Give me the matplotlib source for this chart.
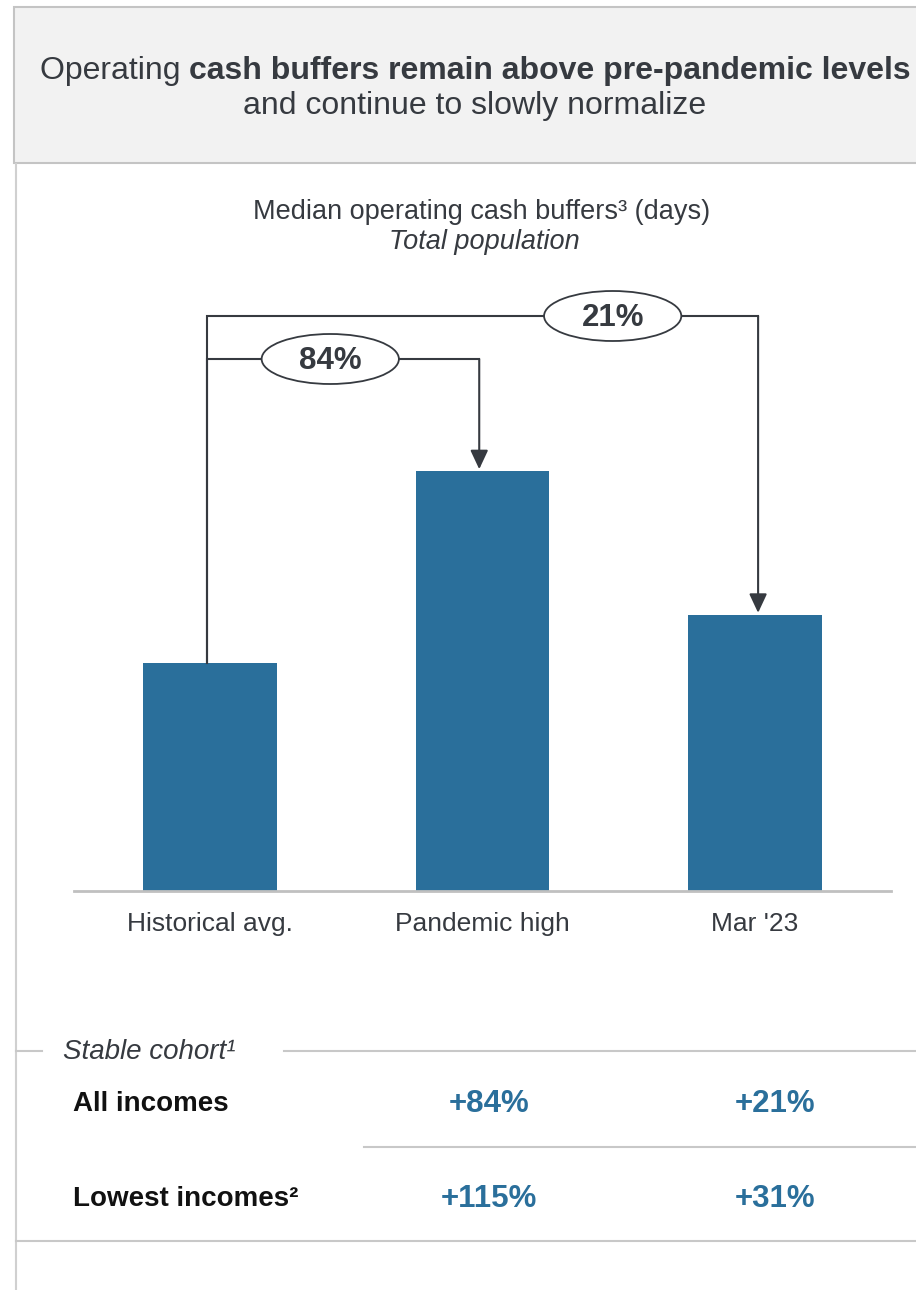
import matplotlib.pyplot as plt
from matplotlib.patches import Ellipse, Rectangle

# Median operating cash buffers, indexed to the historical average (= 100)
categories = ["Historical avg.", "Pandemic high", "Mar '23"]
buffer_index = [100, 184, 121]

# Stable cohort: change vs. historical average
cohort_rows = ["All incomes", "Lowest incomes\u00b2"]
cohort_pandemic = ["+84%", "+115%"]
cohort_mar23 = ["+21%", "+31%"]

W, H = 916, 1290
BLUE = "#2a6f9b"
DARK = "#363a40"
LINE = "#c8c8c8"

plt.rcParams['font.family'] = ['Liberation Sans', 'DejaVu Sans']

fig = plt.figure(figsize=(W / 100, H / 100), dpi=100)

# background layer in pixel coordinates (y down)
bg = fig.add_axes([0, 0, 1, 1])
bg.set_xlim(0, W)
bg.set_ylim(H, 0)
bg.axis('off')

# header box
bg.add_patch(Rectangle((14, 7), 940, 156, facecolor='#f2f2f2',
                       edgecolor='#c4c4c4', lw=1.5))
bg.plot([16, 16], [164, H], color='#d0d0d0', lw=1.5)

renderer = fig.canvas.get_renderer()
t1 = bg.text(0, 71, "Operating ", fontsize=23, color=DARK, ha='left', va='center')
t2 = bg.text(0, 71, "cash buffers remain above pre-pandemic levels", fontsize=23,
             fontweight='bold', color=DARK, ha='left', va='center')
w1 = t1.get_window_extent(renderer).width
w2 = t2.get_window_extent(renderer).width
x0 = 475 - (w1 + w2) / 2
t1.set_x(x0)
t2.set_x(x0 + w1)
bg.text(475, 106, "and continue to slowly normalize", fontsize=23, color=DARK,
        ha='center', va='center')

bg.text(482, 212, "Median operating cash buffers\u00b3 (days)", fontsize=19.5,
        color=DARK, ha='center', va='center')
bg.text(484, 242, "Total population", fontsize=19.5, style='italic',
        color=DARK, ha='center', va='center')

# bar chart
ax = fig.add_axes([74 / W, (H - 891) / H, 817 / W, (891 - 280) / H])
ax.patch.set_alpha(0)
px_per_unit = 2.28
ax.set_xlim(-0.5, 2.5)
ax.set_ylim(0, (891 - 280) / px_per_unit)
xs = range(len(categories))
ax.bar(xs, buffer_index, width=0.49, color=BLUE, zorder=2)
for side in ['top', 'right', 'left']:
    ax.spines[side].set_visible(False)
ax.spines['bottom'].set_color('#c0c0c0')
ax.spines['bottom'].set_linewidth(2)
ax.set_yticks([])
ax.set_xticks(list(xs))
ax.set_xticklabels(categories, fontsize=19, color=DARK)
ax.tick_params(axis='x', length=0, pad=15)

# change brackets from the historical average
base = buffer_index[0]
x_start = -0.01
brackets = [(1, -0.012, (891 - 359) / px_per_unit, 0.441),
            (2, 0.012, (891 - 316) / px_per_unit, 1.478)]
for j, dx, level, ex in brackets:
    ax.plot([x_start, x_start, j + dx], [base, level, level], color=DARK, lw=1.5,
            clip_on=False, zorder=3, solid_joinstyle='miter')
    ax.annotate("", xy=(j + dx, buffer_index[j] + 1.0), xytext=(j + dx, level),
                arrowprops=dict(arrowstyle='-|>,head_length=0.385,head_width=0.18',
                                color=DARK, lw=1.5, mutation_scale=30,
                                shrinkA=0, shrinkB=0),
                annotation_clip=False, zorder=3)
    pct = round((buffer_index[j] / base - 1) * 100)
    ax.add_patch(Ellipse((ex, level), 0.504, 50 / px_per_unit, facecolor='white',
                         edgecolor=DARK, lw=1.3, zorder=4, clip_on=False))
    ax.text(ex, level - 1.0, f"{pct}%", fontsize=22.5, fontweight='bold',
            color=DARK, ha='center', va='center', zorder=5)

# stable cohort table
bg.plot([16, 42], [1051, 1051], color=LINE, lw=1.5)
bg.plot([284, W], [1051, 1051], color=LINE, lw=1.5)
bg.text(63, 1052, "Stable cohort\u00b9", fontsize=20, style='italic', color=DARK,
        ha='left', va='center')

row_y = [1104, 1199]
for y, label, v1, v2 in zip(row_y, cohort_rows, cohort_pandemic, cohort_mar23):
    bg.text(73, y, label, fontsize=20, fontweight='bold', color='#111111',
            ha='left', va='center')
    bg.text(489, y, v1, fontsize=22.5, fontweight='bold', color=BLUE,
            ha='center', va='center')
    bg.text(775, y, v2, fontsize=22.5, fontweight='bold', color=BLUE,
            ha='center', va='center')
bg.plot([364, W], [1147, 1147], color=LINE, lw=1.5)
bg.plot([16, W], [1241, 1241], color=LINE, lw=1.5)

fig.savefig("out.png", dpi=100)
